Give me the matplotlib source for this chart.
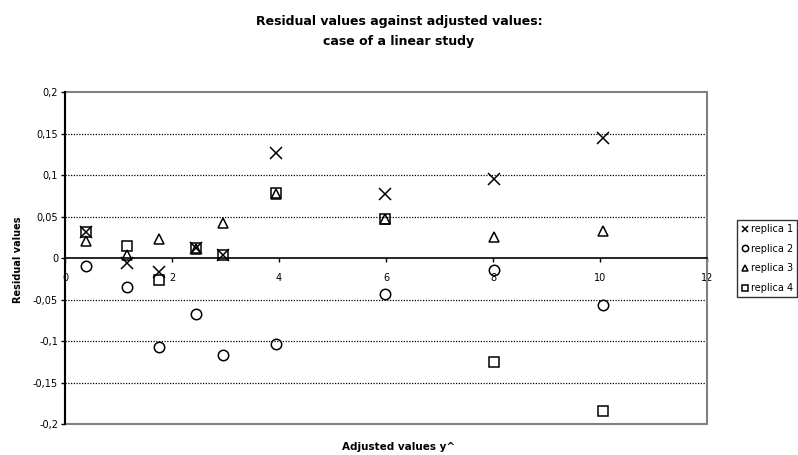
import matplotlib.pyplot as plt
from matplotlib.patches import Rectangle

# Adjusted values (x) and residuals for each replica
x_vals = [0.4, 1.15, 1.75, 2.45, 2.95, 3.95, 5.98, 8.02, 10.05]
replica1 = [0.031, -0.006, -0.017, 0.012, 0.004, 0.127, 0.077, 0.095, 0.144]
replica2 = [-0.010, -0.035, -0.107, -0.068, -0.117, -0.103, -0.043, -0.015, -0.057]
replica3 = [0.020, 0.004, 0.023, 0.011, 0.042, 0.077, 0.047, 0.025, 0.033]
replica4 = [0.031, 0.014, -0.027, 0.012, 0.004, 0.078, 0.047, -0.125, -0.184]

series = [('replica 1', replica1, 'x'),
          ('replica 2', replica2, 'o'),
          ('replica 3', replica3, '^'),
          ('replica 4', replica4, 's')]

x_ticks = [0, 2, 4, 6, 8, 10, 12]
y_ticks = [-0.2, -0.15, -0.1, -0.05, 0, 0.05, 0.1, 0.15, 0.2]
y_labels = ['-0,2', '-0,15', '-0,1', '-0,05', '0', '0,05', '0,1', '0,15', '0,2']

fig = plt.figure(figsize=(7.98, 4.55), dpi=100)
ax = fig.add_axes([0.0815, 0.0681, 0.8045, 0.7297])

# dotted gridlines
for y in [-0.15, -0.1, -0.05, 0.05, 0.1, 0.15]:
    ax.axhline(y, color='black', linestyle=(0, (1, 1.2)), linewidth=0.9, zorder=1)

# gray plot-area frame
ax.add_patch(Rectangle((0, 0), 1, 1, transform=ax.transAxes, fill=False,
                       edgecolor='#808080', linewidth=1.5, zorder=2, clip_on=False))

for name, vals, m in series:
    ms = 8 if m == 'x' else 7.5
    ax.plot(x_vals, vals, linestyle='none', marker=m, markersize=ms,
            markerfacecolor='none', markeredgecolor='black',
            markeredgewidth=1.1, label=name, zorder=3)

ax.set_xlim(0, 12)
ax.set_ylim(-0.2, 0.2)

ax.spines['top'].set_visible(False)
ax.spines['right'].set_visible(False)
ax.spines['bottom'].set_position(('data', 0))
ax.spines['bottom'].set_linewidth(1.2)
ax.spines['left'].set_linewidth(1.5)
ax.spines['bottom'].set_zorder(4)
ax.spines['left'].set_zorder(4)

ax.set_xticks(x_ticks)
ax.set_xticklabels([str(t) for t in x_ticks], fontsize=7)
ax.set_yticks(y_ticks)
ax.set_yticklabels(y_labels, fontsize=7)
ax.tick_params(axis='x', direction='out', length=3, width=1, pad=8)
ax.tick_params(axis='y', direction='out', length=3, width=1, pad=2)

fig.text(0.5, 0.952, 'Residual values against adjusted values:',
         ha='center', va='center', fontsize=9, fontweight='bold')
fig.text(0.5, 0.908, 'case of a linear study',
         ha='center', va='center', fontsize=9, fontweight='bold')
fig.text(0.5, 0.018, 'Adjusted values y^',
         ha='center', va='center', fontsize=7.5, fontweight='bold')
fig.text(0.022, 0.43, 'Residual values', rotation=90, ha='center', va='center',
         fontsize=7, fontweight='bold')

leg = fig.legend(loc='upper left', bbox_to_anchor=(0.918, 0.527), fontsize=7,
                 frameon=True, fancybox=False, edgecolor='black',
                 handlelength=0.7, handletextpad=0.3, borderpad=0.4,
                 labelspacing=1.0, markerscale=0.6)
leg.get_frame().set_linewidth(1.0)

fig.savefig('out.png', dpi=100)
